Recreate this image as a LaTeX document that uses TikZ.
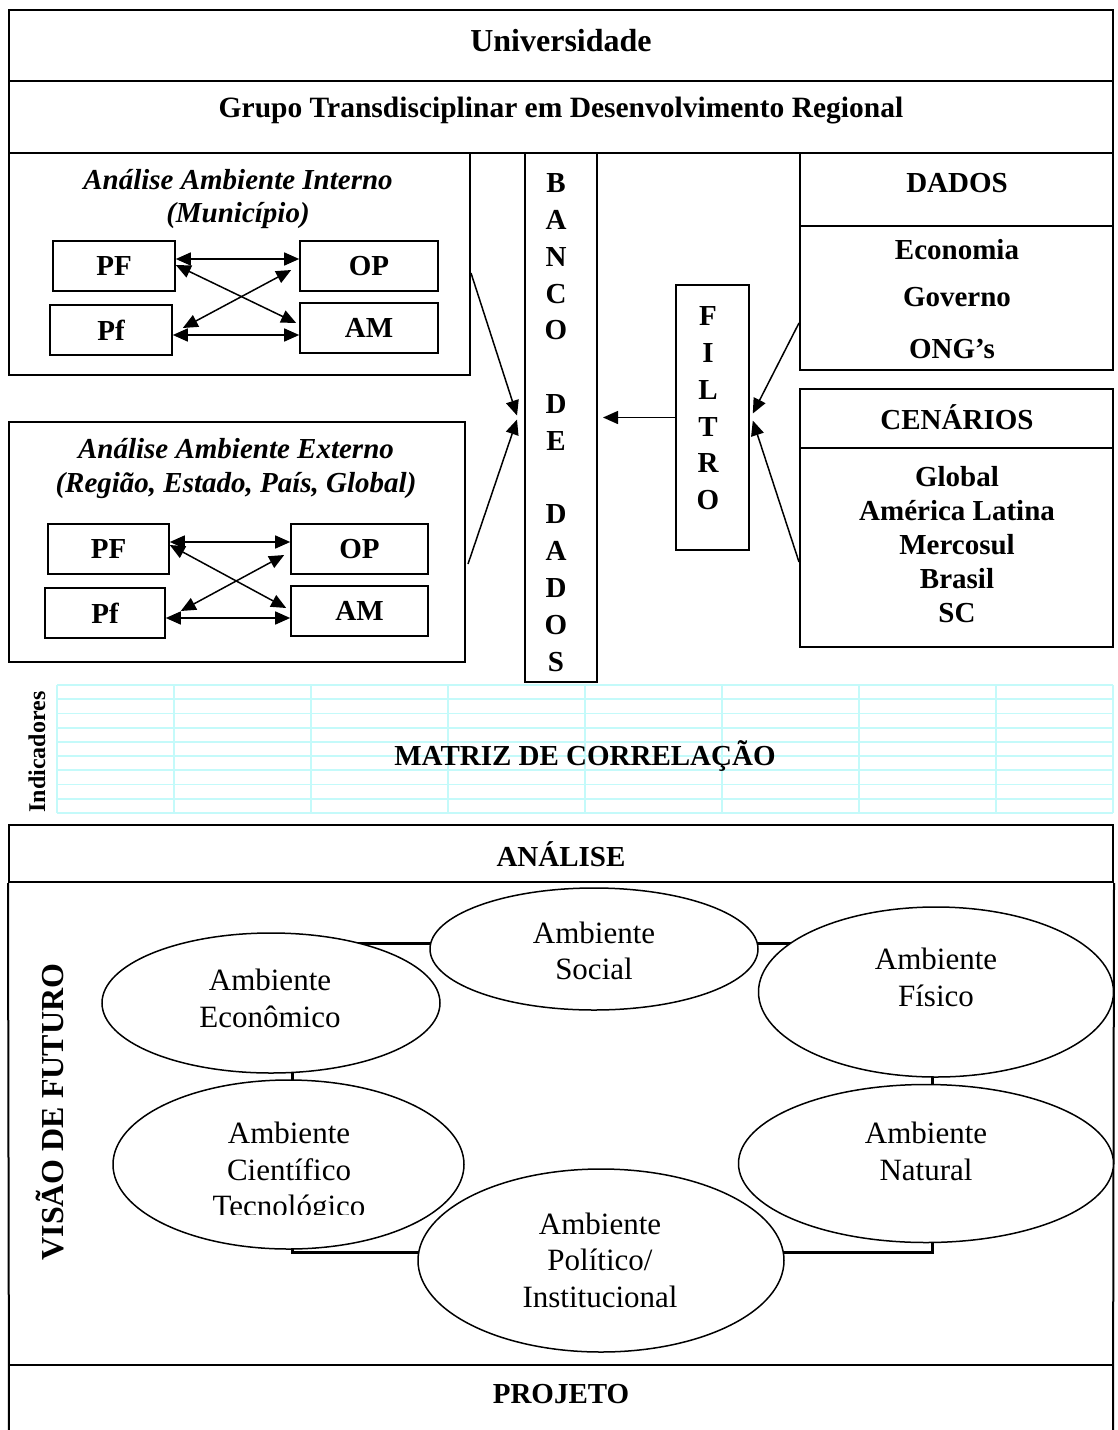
\documentclass[tikz,border=0pt]{standalone}
\usepackage{fontspec}
\setmainfont{Liberation Serif}
\usetikzlibrary{arrows.meta,shapes.geometric}
\definecolor{gridcyan}{RGB}{196,250,250}
\newcommand\bigbf{\fontsize{29}{34}\selectfont\bfseries}
\begin{document}
\begin{tikzpicture}[x=1pt,y=1pt,
  fr/.style={draw, line width=2pt, inner sep=0pt},
  sb/.style={draw, line width=1.6pt, inner sep=0pt, font=\bigbf},
  lbl/.style={inner sep=0pt, font=\bigbf, align=center},
  ar/.style={line width=1.5pt, -{Triangle[length=15pt,width=13pt]}},
  dar/.style={line width=1.5pt, {Triangle[length=15pt,width=13pt]}-{Triangle[length=15pt,width=13pt]}},
  amb/.style={ellipse, draw, line width=1.5pt, fill=white, inner sep=0pt},
  ambt/.style={inner sep=0pt, align=center, font=\fontsize{31}{36.5}\selectfont}]
\useasboundingbox (0,0) rectangle (1118,-1430);
\fill[white] (0,0) rectangle (1118,-1430);

% top
\node[fr, minimum width=1104pt, minimum height=71pt] (univ) at (561,-45.5) {};
\node[lbl, font=\fontsize{32}{36}\selectfont\bfseries] (univt) at (561,-41) {Universidade};
\node[fr, minimum width=1104pt, minimum height=72pt] (grupo) at (561,-117) {};
\node[lbl, font=\fontsize{29.5}{34}\selectfont\bfseries] (grupot) at (561,-111) {Grupo Transdisciplinar em Desenvolvimento Regional};

% internal
\node[fr, minimum width=461pt, minimum height=222pt] (int) at (239.5,-264) {};
\node[lbl, font=\fontsize{29}{33}\selectfont\bfseries\itshape] (intt) at (238,-199) {Análise Ambiente Interno\\(Município)};
\node[sb, minimum width=122pt, minimum height=50pt] (PFa) at (114,-266) {PF};
\node[sb, minimum width=138pt, minimum height=50pt] (OPa) at (369,-266) {OP};
\node[sb, minimum width=122pt, minimum height=50pt] (Pfa) at (111,-330) {Pf};
\node[sb, minimum width=138pt, minimum height=50pt] (AMa) at (369,-328) {AM};
\draw[dar] ([yshift=7pt]PFa.east) -- ([yshift=7pt]PFa.east -| OPa.west);
\draw[dar] ([yshift=-5pt]Pfa.east) -- ([yshift=-5pt]Pfa.east -| AMa.west);
\draw[dar] ([yshift=1pt]PFa.east) -- ([xshift=-3pt,yshift=5pt]AMa.west);
\draw[dar] ([xshift=10pt,yshift=2pt]Pfa.east) -- ([xshift=-8pt,yshift=-4pt]OPa.west);

% external
\node[fr, minimum width=456pt, minimum height=240pt] (ext) at (237,-542) {};
\node[lbl, font=\fontsize{29}{34}\selectfont\bfseries\itshape] (extt) at (236,-468.5) {Análise Ambiente Externo\\(Região, Estado, País, Global)};
\node[sb, minimum width=121pt, minimum height=50pt] (PFb) at (108.5,-549) {PF};
\node[sb, minimum width=137pt, minimum height=50pt] (OPb) at (359.5,-549) {OP};
\node[sb, minimum width=120pt, minimum height=50pt] (Pfb) at (105,-613) {Pf};
\node[sb, minimum width=137pt, minimum height=50pt] (AMb) at (359.5,-611) {AM};
\draw[dar] ([yshift=7pt]PFb.east) -- ([yshift=7pt]PFb.east -| OPb.west);
\draw[dar] ([yshift=-5pt]Pfb.east) -- ([yshift=-5pt]Pfb.east -| AMb.west);
\draw[dar] ([yshift=4pt]PFb.east) -- ([xshift=-4pt,yshift=3pt]AMb.west);
\draw[dar] ([xshift=15pt,yshift=2pt]Pfb.east) -- ([xshift=-6pt,yshift=-6pt]OPb.west);

% banco de dados
\node[fr, minimum width=72pt, minimum height=529pt] (banco) at (561,-417.5) {};
\node[lbl, anchor=north, font=\fontsize{29}{36.8}\selectfont\bfseries] (bancot) at (556,-173.5) {B\\A\\N\\C\\O\\[36.8pt]D\\E\\[36.8pt]D\\A\\D\\O\\S};

% filtro
\node[sb, minimum width=73pt, minimum height=265pt] (filtro) at (712.5,-417.5) {};
\node[lbl, anchor=north, font=\fontsize{29}{36.8}\selectfont\bfseries] (filtrot) at (708,-306.5) {F\\I\\L\\T\\R\\O};

% dados
\node[fr, minimum width=313pt, minimum height=73pt] (dadosh) at (956.5,-189.5) {};
\node[lbl] (dadost) at (957,-183) {DADOS};
\node[fr, minimum width=313pt, minimum height=144pt] (dadosb) at (956.5,-298) {};
\node[lbl] (eco) at (957,-250) {Economia};
\node[lbl] (gov) at (957,-297) {Governo};
\node[lbl] (ong) at (952,-349) {ONG’s};

% cenarios
\node[fr, minimum width=313pt, minimum height=59pt] (cenh) at (956.5,-418.5) {};
\node[lbl] (cent) at (957,-417) {CENÁRIOS};
\node[fr, minimum width=313pt, minimum height=199pt] (cenb) at (956.5,-547.5) {};
\node[lbl, font=\fontsize{29}{34}\selectfont\bfseries] (cenl) at (957,-545) {Global\\América Latina\\Mercosul\\Brasil\\SC};

% arrows to banco
\draw[ar] ([yshift=-9pt]int.east) -- ([xshift=-7pt,yshift=2pt]banco.west);
\draw[ar] ([xshift=2pt,yshift=-22pt]ext.east) -- ([xshift=-7pt,yshift=-2pt]banco.west);
\draw[ar] (filtro.west) -- ([xshift=5pt]banco.east);
\draw[ar] ([yshift=-25pt]dadosb.west) -- ([xshift=3pt,yshift=4pt]filtro.east);
\draw[ar] ([yshift=-14.5pt]cenb.west) -- ([xshift=3pt,yshift=-3pt]filtro.east);

% matriz
\foreach \xx in {57,174,311,448,585,722,859,996,1113}
  \draw[gridcyan, line width=1.8pt] (\xx,-685) -- (\xx,-813);
\foreach \k in {0,...,9}
  \draw[gridcyan, line width=1.8pt] (57,{-685-14.2*\k}) -- (1113,{-685-14.2*\k});
\node[lbl, rotate=90, font=\fontsize{24}{28}\selectfont\bfseries] (ind) at (37,-752) {Indicadores};
\node[lbl] (matriz) at (585,-756) {MATRIZ DE CORRELAÇÃO};

% bottom frame
\node[fr, minimum width=1104pt, minimum height=57pt] (analise) at (561,-853.5) {};
\node[lbl] (analiset) at (561,-854) {ANÁLISE};
\coordinate (bl) at (9,-1432);
\coordinate (br) at (1113,-1432);
\draw[line width=2pt] (analise.south west) -- (bl);
\draw[line width=2pt] (analise.south east) -- (br);
\coordinate (pl) at (9,-1365);
\coordinate (pr) at (1113,-1365);
\draw[line width=2pt] (pl) -- (pr);
\node[lbl] (projeto) at (561,-1394) {PROJETO};
\node[lbl, rotate=90, font=\fontsize{32}{36}\selectfont\bfseries] (visao) at (50,-1112) {VISÃO DE FUTURO};

% ring connector
\coordinate (rtl) at (292,-943);
\coordinate (rbr) at (932,-1252);
\draw[line width=3pt] (rtl) rectangle (rbr);

% ellipses
\node[amb, minimum width=328pt, minimum height=122pt] (soc) at (594,-949) {};
\node[ambt] (soct) at (594,-951) {Ambiente\\Social};
\node[amb, minimum width=338pt, minimum height=140pt] (econ) at (271,-1003) {};
\node[ambt] (econt) at (270,-998.5) {Ambiente\\Econômico};
\node[amb, minimum width=355pt, minimum height=170pt] (fis) at (936,-992) {};
\node[ambt] (fist) at (936,-977.5) {Ambiente\\Físico};
\node[amb, minimum width=351pt, minimum height=169pt] (cien) at (288.5,-1164.5) {};
\begin{scope}
  \clip (100,-1000) rectangle (480,-1214);
  \node[ambt] (ciet) at (289,-1173) {Ambiente\\Científico\\Tecnológico};
\end{scope}
\node[amb, minimum width=375pt, minimum height=158pt] (nat) at (926,-1163.5) {};
\node[ambt] (natt) at (926,-1151.5) {Ambiente\\Natural};
\node[amb, minimum width=366pt, minimum height=183pt] (pol) at (601,-1260.5) {};
\node[ambt] (polt) at (600,-1260) {Ambiente\\Político/\\Institucional};
\end{tikzpicture}
\end{document}
